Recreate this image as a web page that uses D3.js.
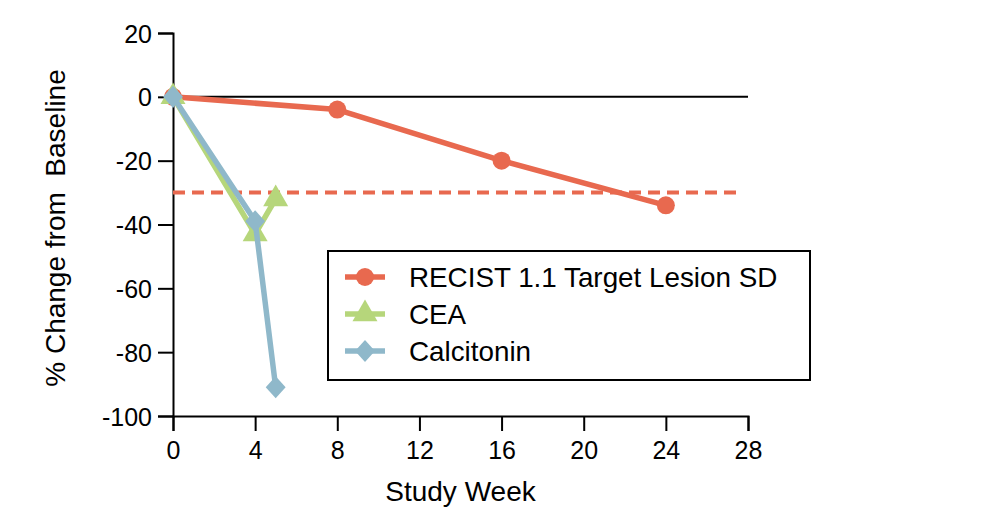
<!DOCTYPE html>
<html>
<head>
<meta charset="utf-8">
<script src="https://cdn.jsdelivr.net/npm/d3@7"></script>
<style>
  body { margin: 0; background: #fff; }
  text { font-family: "Liberation Sans", Arial, sans-serif; }
</style>
</head>
<body>
<div id="chart"></div>
<script>
// data
let recistWeeks = [0, 8, 16, 24];
let recistValues = [0, -4, -20, -34];
let ceaWeeks = [0, 4, 5];
let ceaValues = [0, -43, -32];
let calcWeeks = [0, 4, 5];
let calcValues = [0, -39, -91];
let xTicks = [0, 4, 8, 12, 16, 20, 24, 28];
let yTicks = [20, 0, -20, -40, -60, -80, -100];
let sdThreshold = -30;

let width = 986, height = 507;
let margin = {top: 33, right: 238, bottom: 91, left: 173};

let svg = d3.select("#chart").append("svg")
    .attr("width", width)
    .attr("height", height);

let x = d3.scaleLinear().domain([0, 28]).range([margin.left, width - margin.right]);
let y = d3.scaleLinear().domain([-100, 20]).range([height - margin.bottom, margin.top]);

// wider diamond than d3's default one
let wideDiamond = {
    draw: function(context, size) {
        let h = Math.sqrt(size / 1.8);
        let w = h * 0.9;
        context.moveTo(0, -h);
        context.lineTo(w, 0);
        context.lineTo(0, h);
        context.lineTo(-w, 0);
        context.closePath();
    }
};

// axes (plain hyphen for negatives, like the original)
let xAxis = svg.append("g")
    .attr("transform", "translate(0," + y(-100) + ")")
    .call(d3.axisBottom(x).tickValues(xTicks).tickSize(15).tickPadding(10).tickFormat(d => String(d)));
let yAxis = svg.append("g")
    .attr("transform", "translate(" + x(0) + ",0)")
    .call(d3.axisLeft(y).tickValues(yTicks).tickSize(15).tickPadding(6).tickFormat(d => String(d)));

[xAxis, yAxis].forEach(function(a) {
    a.select(".domain").attr("stroke", "#000").attr("stroke-width", 2);
    a.selectAll(".tick line").attr("stroke", "#000").attr("stroke-width", 2);
    a.selectAll(".tick text").attr("font-size", 25).attr("fill", "#000")
        .attr("font-family", "'Liberation Sans', Arial, sans-serif");
});
yAxis.selectAll(".tick text").attr("dy", "0.36em");

// zero line and SD threshold
svg.append("line")
    .attr("x1", x(0)).attr("x2", x(28))
    .attr("y1", y(0)).attr("y2", y(0))
    .attr("stroke", "#000").attr("stroke-width", 2);

svg.append("line")
    .attr("x1", x(0)).attr("x2", x(28) - 6)
    .attr("y1", y(sdThreshold)).attr("y2", y(sdThreshold))
    .attr("stroke", "#E8694F").attr("stroke-width", 4)
    .attr("stroke-dasharray", "12,7");

// axis labels
svg.append("text")
    .attr("x", (x(0) + x(28)) / 2).attr("y", 501)
    .attr("text-anchor", "middle").attr("font-size", 28)
    .text("Study Week");

svg.append("text")
    .attr("transform", "translate(65,228) rotate(-90)")
    .attr("text-anchor", "middle").attr("font-size", 28)
    .attr("xml:space", "preserve")
    .style("white-space", "pre")
    .text("% Change from  Baseline");

let series = [
    {name: "RECIST 1.1 Target Lesion SD", weeks: recistWeeks, values: recistValues, color: "#E8694F", shape: d3.symbolCircle, size: 255},
    {name: "CEA", weeks: ceaWeeks, values: ceaValues, color: "#B6D67B", shape: d3.symbolTriangle, size: 270},
    {name: "Calcitonin", weeks: calcWeeks, values: calcValues, color: "#8FB8CA", shape: wideDiamond, size: 220}
];

let line = d3.line()
    .x(d => x(d[0]))
    .y(d => y(d[1]));

series.forEach(function(s) {
    let pts = s.weeks.map((w, i) => [w, s.values[i]]);
    svg.append("path")
        .datum(pts)
        .attr("d", line)
        .attr("fill", "none")
        .attr("stroke", s.color)
        .attr("stroke-width", 5.5)
        .attr("stroke-linejoin", "round");
    svg.selectAll(null)
        .data(pts)
        .enter().append("path")
        .attr("transform", d => "translate(" + x(d[0]) + "," + y(d[1]) + ")")
        .attr("d", d3.symbol().type(s.shape).size(s.size))
        .attr("fill", s.color);
});

// legend
let legend = svg.append("g");
legend.append("rect")
    .attr("x", 328).attr("y", 251)
    .attr("width", 482).attr("height", 129)
    .attr("fill", "#fff").attr("stroke", "#000").attr("stroke-width", 2);

series.forEach(function(s, i) {
    let ly = 277 + i * 37;
    legend.append("line")
        .attr("x1", 345).attr("x2", 385)
        .attr("y1", ly).attr("y2", ly)
        .attr("stroke", s.color).attr("stroke-width", 5.5);
    legend.append("path")
        .attr("transform", "translate(365," + ly + ")")
        .attr("d", d3.symbol().type(s.shape).size(s.size))
        .attr("fill", s.color);
    legend.append("text")
        .attr("x", 409).attr("y", ly + 10)
        .attr("font-size", 27.8)
        .text(s.name);
});
</script>
</body>
</html>
